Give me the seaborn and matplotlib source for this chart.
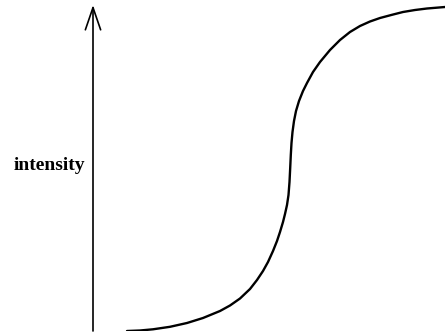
import matplotlib
matplotlib.use("Agg")
import matplotlib.pyplot as plt
import seaborn as sns
import pandas as pd

# Data (arbitrary time units, arbitrary intensity units)
time = [34, 47, 60, 77, 94, 110, 127, 137, 147, 157,
        164, 170, 175, 180, 184, 187, 190, 192, 194, 195.5,
        196.5, 197.2, 197.8, 198.5, 199.5, 201, 203, 206, 210, 214,
        220, 227, 237, 247, 257, 267, 277, 287, 299, 310,
        322, 334, 352]
intensity = [0, 0.5, 1.7, 4.2, 8, 13, 20, 25.5, 32.5, 42,
             51, 60, 69, 80, 90, 99, 109, 117, 126, 136,
             149, 163, 176, 188, 199, 210, 220, 230, 240, 248,
             259, 269, 281, 291, 299, 305, 309.5, 313, 316.2, 319,
             321, 322.5, 324]
ylabel = "intensity"

df = pd.DataFrame({"time": time, "intensity": intensity})

sns.set_theme(style="white")
fig = plt.figure(figsize=(4.45, 3.32), dpi=100)
ax = fig.add_axes([93 / 445, 1 / 332, 352 / 445, 326 / 332])

sns.lineplot(data=df, x="time", y="intensity", sort=False, estimator=None,
             color="black", linewidth=1.7, ax=ax)
ax.lines[0].set_solid_joinstyle("round")

ax.set_xlim(0, 352)
ax.set_ylim(0, 326)
for s in ax.spines.values():
    s.set_visible(False)
ax.set_xticks([])
ax.set_yticks([])
ax.set_xlabel("")
ax.set_ylabel("")

# vertical axis arrow
ax.annotate("", xy=(0, 1.0), xytext=(0, 0.0), xycoords="axes fraction",
            textcoords="axes fraction",
            arrowprops=dict(arrowstyle="->,head_length=1.6,head_width=0.55",
                            color="black", lw=1.2, mutation_scale=10,
                            shrinkA=0, shrinkB=0),
            annotation_clip=False)

ax.text(-0.022, 0.494, ylabel, transform=ax.transAxes, ha="right",
        va="baseline", fontsize=14, fontweight="bold",
        family=["Liberation Serif", "DejaVu Serif"], color="black")

fig.savefig("out.png", dpi=100, facecolor="white")
